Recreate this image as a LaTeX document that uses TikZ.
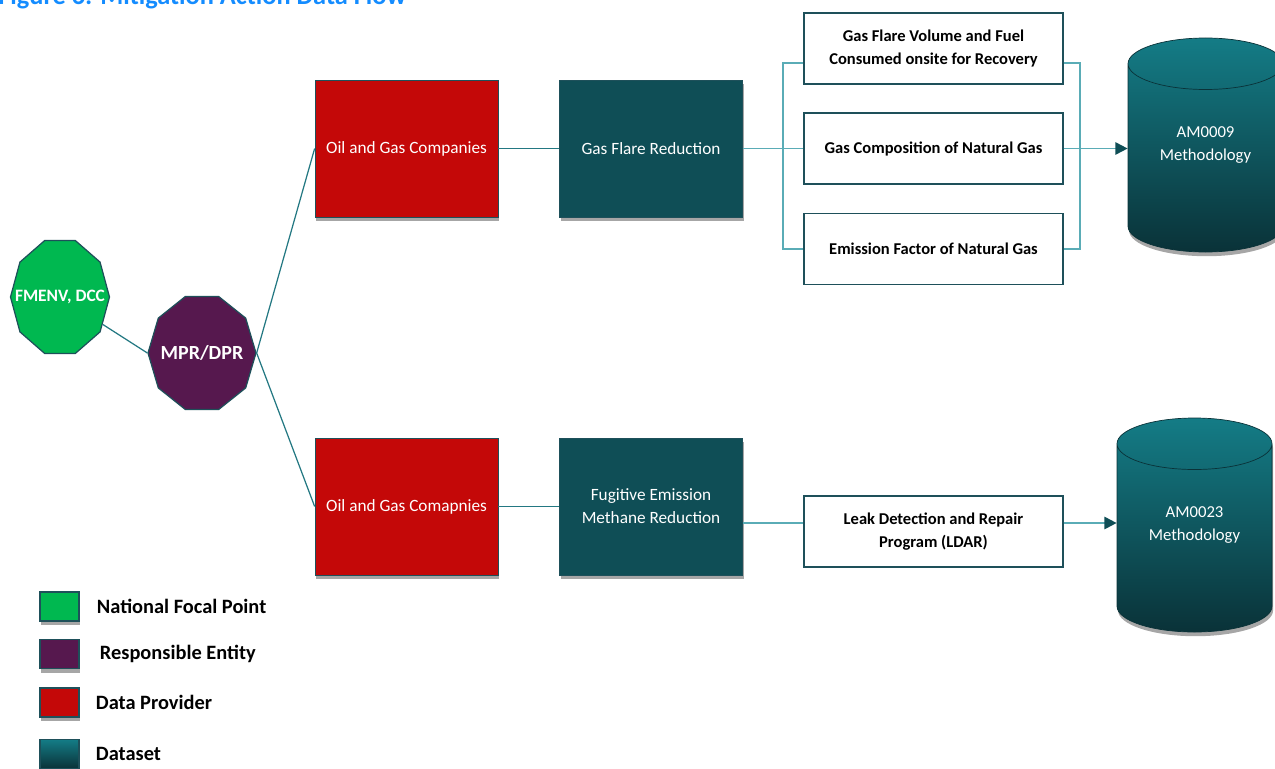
\documentclass[tikz,border=0pt]{standalone}
\usepackage{fontspec}
\setmainfont{Carlito}
\usetikzlibrary{shapes, shapes.geometric, arrows.meta, positioning, calc, shadows}
\definecolor{focalgreen}{RGB}{0, 184, 80}
\definecolor{entitypurple}{RGB}{86, 24, 78}
\definecolor{providerred}{RGB}{196, 8, 8}
\definecolor{datateal}{RGB}{15, 78, 86}
\definecolor{cyltop}{RGB}{20, 124, 134}
\definecolor{cylbot}{RGB}{10, 50, 56}
\definecolor{linkteal}{RGB}{35, 120, 130}
\definecolor{busteal}{RGB}{90, 172, 182}
\definecolor{titleblue}{RGB}{20, 140, 255}
\definecolor{boxedge}{RGB}{30, 80, 90}

\tikzset{
  softshadow/.style={drop shadow={shadow xshift=0.6pt, shadow yshift=-2.4pt, opacity=0.35, fill=black}},
  decagon/.style={regular polygon, regular polygon sides=10, draw=boxedge, line width=0.7pt, inner sep=0pt, transform shape},
  provider/.style={draw=boxedge, fill=providerred, minimum width=3.66cm, minimum height=2.74cm, text=white, align=center, font=\fontsize{9.8}{13}\selectfont, softshadow},
  dataset/.style={provider, fill=datateal},
  databox/.style={draw=boxedge, fill=white, line width=0.7pt, minimum width=5.18cm, minimum height=1.42cm, align=center, font=\bfseries\fontsize{9.4}{13}\selectfont},
  method/.style={cylinder, shape border rotate=90, aspect=0.5, minimum width=3.1cm, minimum height=4.28cm, anchor=shape center, draw=cylbot, top color=cyltop, bottom color=cylbot, align=center, font=\fontsize{9.5}{13.5}\selectfont, softshadow},
  methodtext/.style={text=white, align=center, font=\fontsize{9.5}{13.5}\selectfont},
  legendbox/.style={draw=boxedge, line width=0.7pt, minimum width=0.78cm, minimum height=0.58cm, softshadow},
  legendtext/.style={right=0.34cm, inner sep=0pt, font=\bfseries\fontsize{11.6}{13}\selectfont},
  link/.style={draw=linkteal, line width=0.7pt},
  bus/.style={draw=busteal, line width=1.1pt},
  arrow/.style={bus, -{Triangle[length=7pt, width=7pt, color=datateal]}}
}
\newcommand{\cylspace}{\phantom{AM0000}\\\phantom{Methodology}}

\begin{document}
\begin{tikzpicture}
  \useasboundingbox (0,0) rectangle (25.5,-15.36);

  % title
  \node[anchor=base west, inner sep=0pt, text=titleblue, font=\bfseries\fontsize{15}{17}\selectfont] (title) at (-0.04,-0.1) {Figure 6: Mitigation Action Data Flow};

  % focal point and responsible entity
  \node[decagon, fill=focalgreen, minimum size=1.98cm, yscale=1.2] (fmenv) at (1.2,-5.94) {};
  \node[text=white, font=\bfseries\fontsize{9.9}{11}\selectfont] at (fmenv) {FMENV, DCC};
  \node[decagon, fill=entitypurple, minimum size=2.16cm, yscale=1.1] (mpr) at (4.04,-7.06) {};
  \node[text=white, font=\bfseries\fontsize{11.4}{13}\selectfont] at (mpr) {MPR/DPR};

  % data providers
  \node[provider] (oil1) at (8.13,-2.97) {Oil and Gas Companies};
  \node[provider] (oil2) at (8.13,-10.13) {Oil and Gas Comapnies};

  % datasets
  \node[dataset] (flare) at (13.02,-2.97) {Gas Flare Reduction};
  \node[dataset] (fug) at (13.02,-10.13) {Fugitive Emission\\Methane Reduction};

  % data items
  \node[databox] (vol) at (18.67,-0.97) {Gas Flare Volume and Fuel\\Consumed onsite for Recovery};
  \node[databox] (comp) at (18.67,-2.97) {Gas Composition of Natural Gas};
  \node[databox] (ef) at (18.67,-4.98) {Emission Factor of Natural Gas};
  \node[databox] (ldar) at (18.67,-10.63) {Leak Detection and Repair\\Program (LDAR)};

  % methodologies
  \node[method] (am09) at (24.11,-2.9) {\cylspace};
  \node[methodtext] at (am09.shape center) {AM0009\\Methodology};
  \node[method] (am23) at (23.89,-10.5) {\cylspace};
  \node[methodtext] at (am23.shape center) {AM0023\\Methodology};

  % connectors
  \draw[link] (fmenv) -- (mpr.west);
  \draw[link] (mpr.east) -- (oil1.west);
  \draw[link] (mpr.east) -- (oil2.west);
  \draw[link] (oil1) -- (flare);
  \draw[link] (oil2) -- (fug);
  \draw[bus] (flare) -- (comp);
  \draw[bus] ([yshift=-0.29cm]vol.west) -| ($(flare.east)!0.66!(comp.west)$) |- (ef.west);
  \draw[bus] ([yshift=-0.29cm]vol.east) -- ++(0.32,0) |- (ef.east);
  \draw[arrow] (comp.east) -- (comp.east -| am09.west);
  \coordinate (ldarin) at ([yshift=-0.33cm]fug.east);
  \draw[bus] (ldarin) -- (ldarin -| ldar.west);
  \draw[arrow] (ldarin -| ldar.east) -- (ldarin -| am23.west);

  % legend
  \node[legendbox, fill=focalgreen] (lgfocal) at (1.19,-12.13) {};
  \node[legendtext] at (lgfocal.east) {National Focal Point};
  \node[legendbox, fill=entitypurple] (lgentity) at (1.19,-13.08) {};
  \node[legendtext, right=0.4cm] at (lgentity.east) {Responsible Entity};
  \node[legendbox, fill=providerred] (lgprovider) at (1.19,-14.05) {};
  \node[legendtext, right=0.32cm] at (lgprovider.east) {Data Provider};
  \node[legendbox, top color=cyltop, bottom color=cylbot] (lgdata) at (1.19,-15.08) {};
  \node[legendtext, right=0.32cm] at (lgdata.east) {Dataset};
\end{tikzpicture}
\end{document}
